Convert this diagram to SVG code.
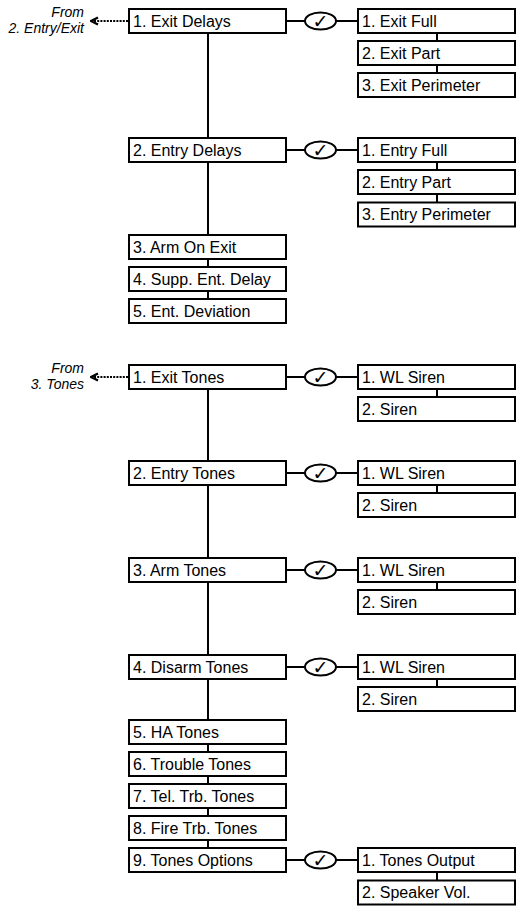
<svg xmlns="http://www.w3.org/2000/svg" width="516" height="907" viewBox="0 0 516 907">
<style>
.b{fill:#fff;stroke:#000;stroke-width:2}
.t{font-family:"Liberation Sans",Arial,sans-serif;font-size:16px;fill:#000}
.f{font-family:"Liberation Sans",Arial,sans-serif;font-size:14px;font-style:italic;fill:#000;text-anchor:end}
.l{stroke:#000;stroke-width:2;fill:none}
.d{stroke:#000;stroke-width:2;fill:none;stroke-dasharray:2 1.2}
.e{fill:#fff;stroke:#000;stroke-width:2}
.c{font-family:"DejaVu Sans",sans-serif;font-size:19px;font-style:italic;fill:#000;text-anchor:middle}
</style>
<defs>
<marker id="ah" viewBox="0 0 10 10" refX="9" refY="5" markerWidth="10" markerHeight="10" markerUnits="userSpaceOnUse" orient="auto">
<path d="M2,1.5 L9,5 L2,8.5" fill="none" stroke="#000" stroke-width="2.4"/>
</marker>
<g id="chk"><ellipse class="e" cx="0" cy="0" rx="15.5" ry="8.5"/><text class="c" x="0" y="6.5">✓</text></g>
</defs>
<g id="connectors">
<path class="d" d="M128,21 H91" marker-end="url(#ah)"/>
<path class="d" d="M128,377 H91" marker-end="url(#ah)"/>
<path class="l" d="M208,33 V138 M208,162 V235 M208,259 V267 M208,291 V299"/>
<path class="l" d="M286,21 H305 M336,21 H358 M437,33 V41 M437,65 V73"/>
<path class="l" d="M286,150 H305 M336,150 H358 M437,162 V170 M437,194 V202.5"/>
<path class="l" d="M208,389 V461 M208,485 V558 M208,582 V655 M208,679 V720 M208,744 V752 M208,776 V784 M208,808 V816 M208,840 V848"/>
<path class="l" d="M286,377 H305 M336,377 H358 M437,389 V397"/>
<path class="l" d="M286,473 H305 M336,473 H358 M437,485 V493"/>
<path class="l" d="M286,570 H305 M336,570 H358 M437,582 V590"/>
<path class="l" d="M286,667 H305 M336,667 H358 M437,679 V687"/>
<path class="l" d="M286,860 H305 M336,860 H358 M437,872 V880.5"/>
<use href="#chk" x="320.5" y="21"/>
<use href="#chk" x="320.5" y="150"/>
<use href="#chk" x="320.5" y="377"/>
<use href="#chk" x="320.5" y="473"/>
<use href="#chk" x="320.5" y="570"/>
<use href="#chk" x="320.5" y="667"/>
<use href="#chk" x="320.5" y="860"/>
</g>
<g id="from1"><text class="f" x="84" y="17">From</text><text class="f" x="84" y="33">2. Entry/Exit</text></g>
<g id="from2"><text class="f" x="84" y="373">From</text><text class="f" x="84" y="389">3. Tones</text></g>
<g id="exitDelays"><rect class="b" x="129" y="9" width="157" height="24"/><text class="t" x="133" y="26.5">1. Exit Delays</text></g>
<g id="exitFull"><rect class="b" x="358" y="9" width="157" height="24"/><text class="t" x="362" y="26.5">1. Exit Full</text></g>
<g id="exitPart"><rect class="b" x="358" y="41" width="157" height="24"/><text class="t" x="362" y="58.5">2. Exit Part</text></g>
<g id="exitPerim"><rect class="b" x="358" y="73" width="157" height="24"/><text class="t" x="362" y="90.5">3. Exit Perimeter</text></g>
<g id="entryDelays"><rect class="b" x="129" y="138" width="157" height="24"/><text class="t" x="133" y="155.5">2. Entry Delays</text></g>
<g id="entryFull"><rect class="b" x="358" y="138" width="157" height="24"/><text class="t" x="362" y="155.5">1. Entry Full</text></g>
<g id="entryPart"><rect class="b" x="358" y="170" width="157" height="24"/><text class="t" x="362" y="187.5">2. Entry Part</text></g>
<g id="entryPerim"><rect class="b" x="358" y="202.5" width="157" height="24"/><text class="t" x="362" y="220">3. Entry Perimeter</text></g>
<g id="armOnExit"><rect class="b" x="129" y="235" width="157" height="24"/><text class="t" x="133" y="252.5">3. Arm On Exit</text></g>
<g id="suppEnt"><rect class="b" x="129" y="267" width="157" height="24"/><text class="t" x="133" y="284.5">4. Supp. Ent. Delay</text></g>
<g id="entDev"><rect class="b" x="129" y="299" width="157" height="24"/><text class="t" x="133" y="316.5">5. Ent. Deviation</text></g>
<g id="exitTones"><rect class="b" x="129" y="365" width="157" height="24"/><text class="t" x="133" y="382.5">1. Exit Tones</text></g>
<g id="exitWL"><rect class="b" x="358" y="365" width="157" height="24"/><text class="t" x="362" y="382.5">1. WL Siren</text></g>
<g id="exitSiren"><rect class="b" x="358" y="397" width="157" height="24"/><text class="t" x="362" y="414.5">2. Siren</text></g>
<g id="entryTones"><rect class="b" x="129" y="461" width="157" height="24"/><text class="t" x="133" y="478.5">2. Entry Tones</text></g>
<g id="entryWL"><rect class="b" x="358" y="461" width="157" height="24"/><text class="t" x="362" y="478.5">1. WL Siren</text></g>
<g id="entrySiren"><rect class="b" x="358" y="493" width="157" height="24"/><text class="t" x="362" y="510.5">2. Siren</text></g>
<g id="armTones"><rect class="b" x="129" y="558" width="157" height="24"/><text class="t" x="133" y="575.5">3. Arm Tones</text></g>
<g id="armWL"><rect class="b" x="358" y="558" width="157" height="24"/><text class="t" x="362" y="575.5">1. WL Siren</text></g>
<g id="armSiren"><rect class="b" x="358" y="590" width="157" height="24"/><text class="t" x="362" y="607.5">2. Siren</text></g>
<g id="disarmTones"><rect class="b" x="129" y="655" width="157" height="24"/><text class="t" x="133" y="672.5">4. Disarm Tones</text></g>
<g id="disarmWL"><rect class="b" x="358" y="655" width="157" height="24"/><text class="t" x="362" y="672.5">1. WL Siren</text></g>
<g id="disarmSiren"><rect class="b" x="358" y="687" width="157" height="24"/><text class="t" x="362" y="704.5">2. Siren</text></g>
<g id="haTones"><rect class="b" x="129" y="720" width="157" height="24"/><text class="t" x="133" y="737.5">5. HA Tones</text></g>
<g id="troubleTones"><rect class="b" x="129" y="752" width="157" height="24"/><text class="t" x="133" y="769.5">6. Trouble Tones</text></g>
<g id="telTrb"><rect class="b" x="129" y="784" width="157" height="24"/><text class="t" x="133" y="801.5">7. Tel. Trb. Tones</text></g>
<g id="fireTrb"><rect class="b" x="129" y="816" width="157" height="24"/><text class="t" x="133" y="833.5">8. Fire Trb. Tones</text></g>
<g id="tonesOptions"><rect class="b" x="129" y="848" width="157" height="24"/><text class="t" x="133" y="865.5">9. Tones Options</text></g>
<g id="tonesOutput"><rect class="b" x="358" y="848" width="157" height="24"/><text class="t" x="362" y="865.5">1. Tones Output</text></g>
<g id="speakerVol"><rect class="b" x="358" y="880.5" width="157" height="24"/><text class="t" x="362" y="898">2. Speaker Vol.</text></g>
</svg>
